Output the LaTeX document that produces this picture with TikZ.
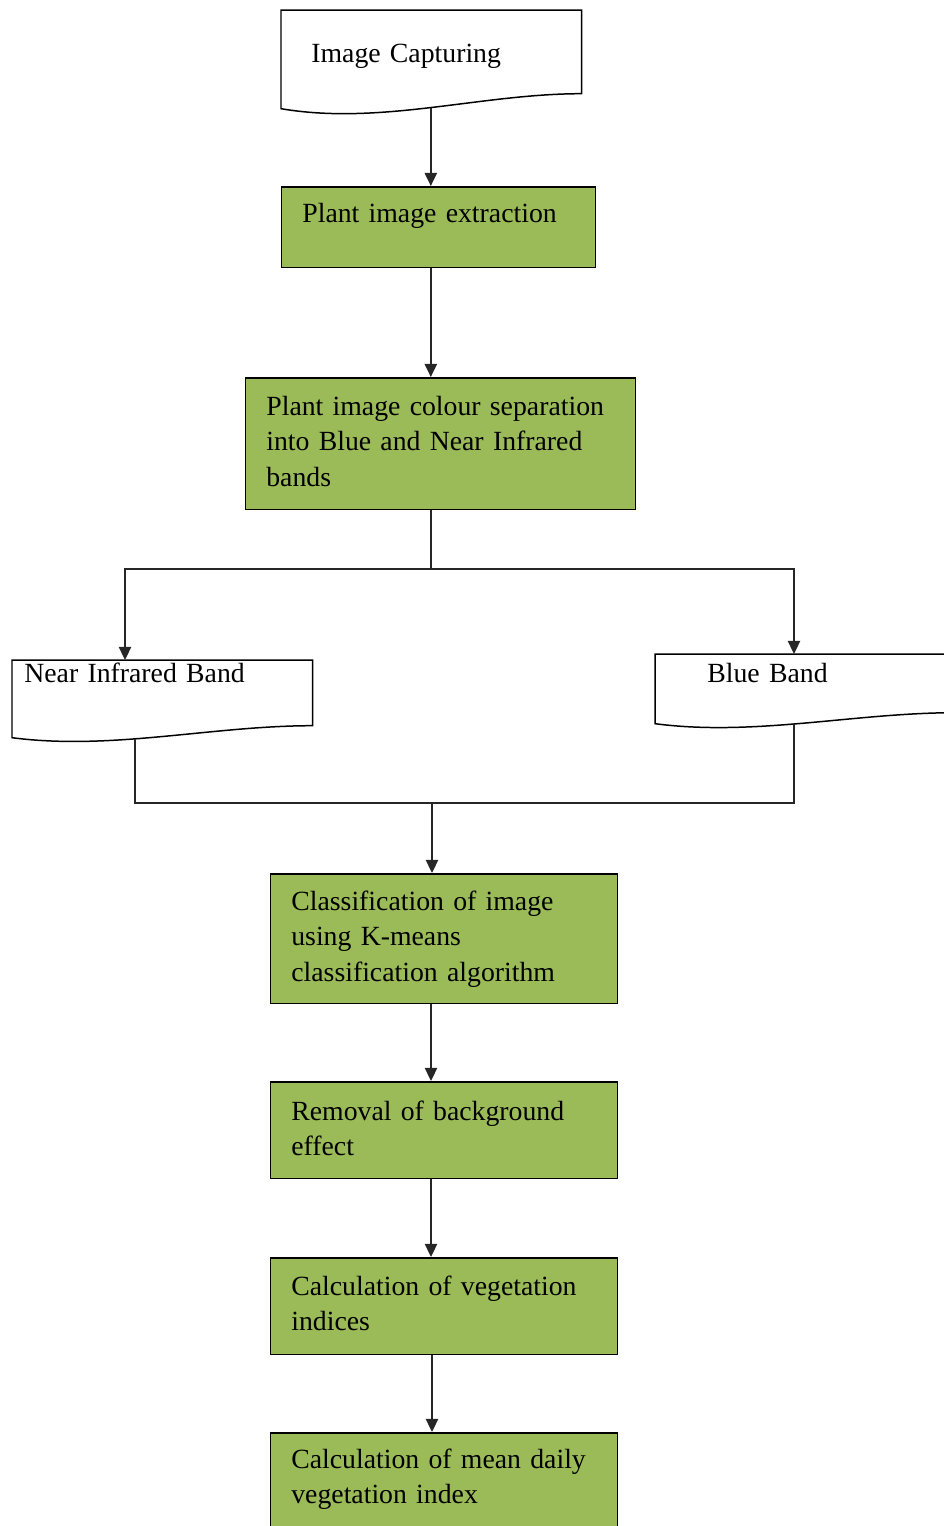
\documentclass[tikz,border=0pt]{standalone}
\usepackage{fontspec}
\setmainfont{Liberation Serif}[WordSpace=0.85]
\usetikzlibrary{arrows.meta,calc}
\definecolor{boxgreen}{HTML}{9BBB59}
\tikzset{
  procbox/.style={draw=black, line width=0.85pt, fill=boxgreen, rectangle, inner sep=0pt, anchor=north west},
  docbox/.style={draw=none, rectangle, inner sep=0pt, anchor=north west},
  docline/.style={draw=black, line width=0.85pt, fill=white},
  lbl/.style={anchor=base west, inner sep=0pt, align=left, text width=12cm, font=\fontsize{15.8}{20.4}\selectfont},
  conn/.style={draw=black!85, line width=1pt},
  arr/.style={conn, -{Triangle[length=7.5pt,width=7pt]}}
}
\begin{document}
\begin{tikzpicture}[x=0.02cm, y=-0.02cm]
\useasboundingbox (0,0) rectangle (944,1526);
\clip (0,0) rectangle (944,1526);

% document shapes
\node[docbox, minimum width=6cm, minimum height=1.66cm] (ic) at (281,10) {};
\draw[docline] (ic.north west) -- (ic.north east) -- (ic.south east)
  .. controls ($(ic.south east)+(-101,0)$) and ($(ic.south east)+(-201,32)$) .. coordinate[pos=0.5] (icw) ($(ic.south west)+(0,15)$) -- cycle;
\node[lbl] (ict) at (311,62) {Image Capturing};

\node[docbox, minimum width=6cm, minimum height=1.3cm] (nir) at (12,660) {};
\draw[docline] (nir.north west) -- (nir.north east) -- (nir.south east)
  .. controls ($(nir.south east)+(-101,0)$) and ($(nir.south east)+(-201,25)$) .. coordinate[pos=0.59] (nirout) ($(nir.south west)+(0,12)$) -- cycle;
\node[lbl] (nirt) at (24,682) {Near Infrared Band};
\coordinate (nirin) at ($(nir.north west)+(113,0)$);

\node[docbox, minimum width=6cm, minimum height=1.16cm] (blue) at (655,654) {};
\draw[docline] (blue.north west) -- (blue.north east) -- (blue.south east)
  .. controls ($(blue.south east)+(-101,0)$) and ($(blue.south east)+(-201,24)$) .. coordinate[pos=0.537] (blueout) ($(blue.south west)+(0,11)$) -- cycle;
\node[lbl] (bluet) at (707,682) {Blue Band};
\coordinate (bluein) at ($(blue.north west)+(139,0)$);

% process boxes
\node[procbox, minimum width=6.28cm, minimum height=1.62cm] (pie) at (281,186) {};
\node[lbl] (piet) at (302,222) {Plant image extraction};

\node[procbox, minimum width=7.8cm, minimum height=2.64cm] (sep) at (245,377) {};
\node[lbl] (sept) at (266,415) {Plant image colour separation\\into Blue and Near Infrared\\bands};

\node[procbox, minimum width=6.94cm, minimum height=2.6cm] (cls) at (270,873) {};
\node[lbl] (clst) at (291,910) {Classification of image\\using K-means\\classification algorithm};

\node[procbox, minimum width=6.94cm, minimum height=1.94cm] (rem) at (270,1081) {};
\node[lbl] (remt) at (291,1120) {Removal of background\\effect};

\node[procbox, minimum width=6.94cm, minimum height=1.94cm] (calc) at (270,1257) {};
\node[lbl] (calct) at (291,1295) {Calculation of vegetation\\indices};

\node[procbox, minimum width=6.94cm, minimum height=2.3cm] (mean) at (270,1432) {};
\node[lbl] (meant) at (291,1468) {Calculation of mean daily\\vegetation index};

% connectors
\coordinate (split) at (431,569);
\coordinate (merge) at (432,803);
\draw[arr] (icw) -- (icw |- pie.north);
\draw[arr] (pie.south -| icw) -- (sep.north -| icw);
\draw[conn] (sep.south -| split) -- (split);
\draw[arr] (split) -| (nirin);
\draw[arr] (split) -| (bluein);
\draw[conn] (nirout) |- (merge) -| (blueout);
\draw[arr] (merge) -- (merge |- cls.north);
\draw[arr] (cls.south -| split) -- (rem.north -| split);
\draw[arr] (rem.south -| split) -- (calc.north -| split);
\draw[arr] (calc.south -| merge) -- (mean.north -| merge);
\end{tikzpicture}
\end{document}
